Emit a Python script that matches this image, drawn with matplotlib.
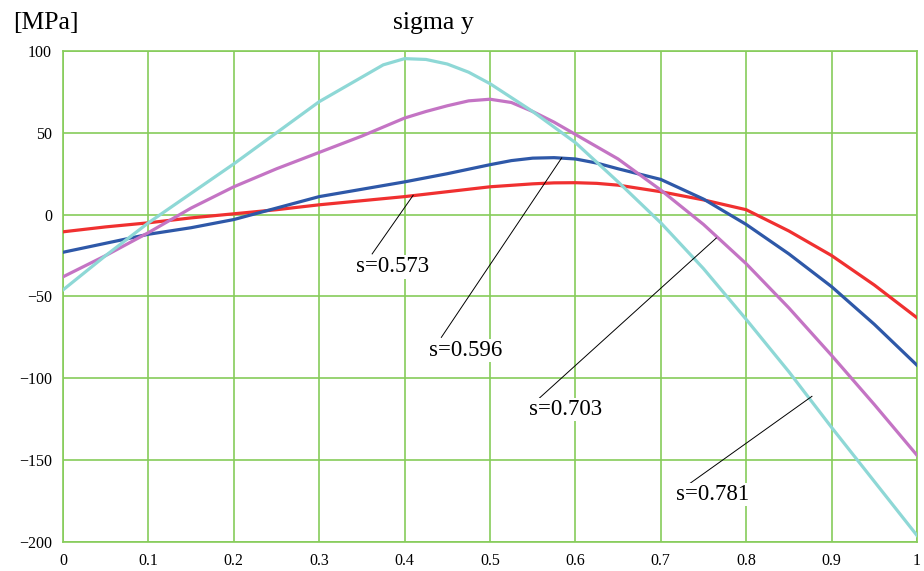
import numpy as np
import matplotlib
matplotlib.use("Agg")
import matplotlib.pyplot as plt

plt.rcParams["font.family"] = ["Liberation Serif", "DejaVu Serif"]

# values
x_573 = [0.0, 0.05, 0.1, 0.15, 0.2, 0.25, 0.3, 0.35, 0.4, 0.45, 0.5,
         0.55, 0.575, 0.6, 0.625, 0.65, 0.7, 0.75, 0.8, 0.85, 0.9, 0.95, 1.0]
s_573 = [-10.5, -7.5, -5, -2, 0.5, 3, 6, 8.5, 11, 14, 17,
         18.8, 19.4, 19.5, 19.1, 18, 14, 9, 3, -10, -25, -43, -63]

x_596 = [0.0, 0.05, 0.1, 0.15, 0.2, 0.25, 0.3, 0.35, 0.4, 0.45, 0.5,
         0.525, 0.55, 0.575, 0.6, 0.625, 0.65, 0.7, 0.75, 0.8, 0.85, 0.9, 0.95, 1.0]
s_596 = [-23, -17.5, -12, -8, -3, 4, 11, 15.5, 20, 25, 30.5,
         33, 34.5, 34.8, 34, 31.5, 28, 21.5, 9.5, -6, -24, -44, -67, -92]

x_703 = [0.0, 0.05, 0.1, 0.15, 0.2, 0.25, 0.3, 0.35, 0.4, 0.425, 0.45, 0.475, 0.5,
         0.525, 0.55, 0.575, 0.6, 0.65, 0.7, 0.75, 0.8, 0.85, 0.9, 0.95, 1.0]
s_703 = [-38, -25, -11, 4, 17, 28, 38, 48, 59, 63, 66.5, 69.5, 70.5,
         68.5, 63, 56.5, 49, 34, 15, -6, -30, -57, -86, -116, -147]

x_781 = [0.0, 0.05, 0.1, 0.15, 0.2, 0.25, 0.3, 0.35, 0.375, 0.4, 0.425, 0.45, 0.475, 0.5,
         0.55, 0.6, 0.65, 0.7, 0.75, 0.8, 0.85, 0.9, 0.95, 1.0]
s_781 = [-46, -25, -5, 13, 31, 50, 69, 84, 91.5, 95.3, 94.8, 92, 87, 80,
         63, 44, 20, -5, -33, -64, -96, -130, -163, -196]

xticks = [0, 0.1, 0.2, 0.3, 0.4, 0.5, 0.6, 0.7, 0.8, 0.9, 1]
xtick_labels = ["0", "0.1", "0.2", "0.3", "0.4", "0.5", "0.6", "0.7", "0.8", "0.9", "1"]
yticks = [-200, -150, -100, -50, 0, 50, 100]

# label text, label position, leader line start and end (on the curve)
labels = ["s=0.573", "s=0.596", "s=0.703", "s=0.781"]
label_xy = [(0.386, -32), (0.471, -83), (0.588, -119), (0.761, -171)]
line_start = [(0.362, -24), (0.443, -75), (0.558, -112), (0.732, -165)]
line_end = [(0.410, 11.8), (0.584, 34.7), (0.765, -14.3), (0.877, -111)]

green = "#86cc5a"

fig = plt.figure(figsize=(9.24, 5.71), dpi=100)
ax = fig.add_axes([0.0682, 0.0508, 0.9242, 0.86])

ax.plot(x_573, s_573, color="#f03030", lw=2.3, zorder=3)
ax.plot(x_596, s_596, color="#2e58a8", lw=2.3, zorder=3)
ax.plot(x_703, s_703, color="#c474c4", lw=2.3, zorder=3)
ax.plot(x_781, s_781, color="#8ed8d6", lw=2.3, zorder=3)

for i in range(4):
    ax.plot([line_start[i][0], line_end[i][0]], [line_start[i][1], line_end[i][1]],
            color="black", lw=0.7, zorder=4)
    ax.text(label_xy[i][0], label_xy[i][1], labels[i], fontsize=16.5,
            ha="center", va="center", zorder=5,
            bbox=dict(facecolor="white", edgecolor="none", pad=1.0))

ax.set_xlim(0, 1)
ax.set_ylim(-200, 100)
ax.set_xticks(xticks)
ax.set_xticklabels(xtick_labels)
ax.set_yticks(yticks)
ax.grid(True, color=green, lw=1.2, zorder=1)
ax.set_axisbelow(True)
for sp in ax.spines.values():
    sp.set_color(green)
    sp.set_linewidth(1.2)
ax.tick_params(length=0, labelsize=11.5, pad=8)

fig.text(0.469, 0.960, "sigma y", fontsize=18.5, ha="center", va="center")
fig.text(0.050, 0.960, "[MPa]", fontsize=18.5, ha="center", va="center")

fig.savefig("out.png", dpi=100)
